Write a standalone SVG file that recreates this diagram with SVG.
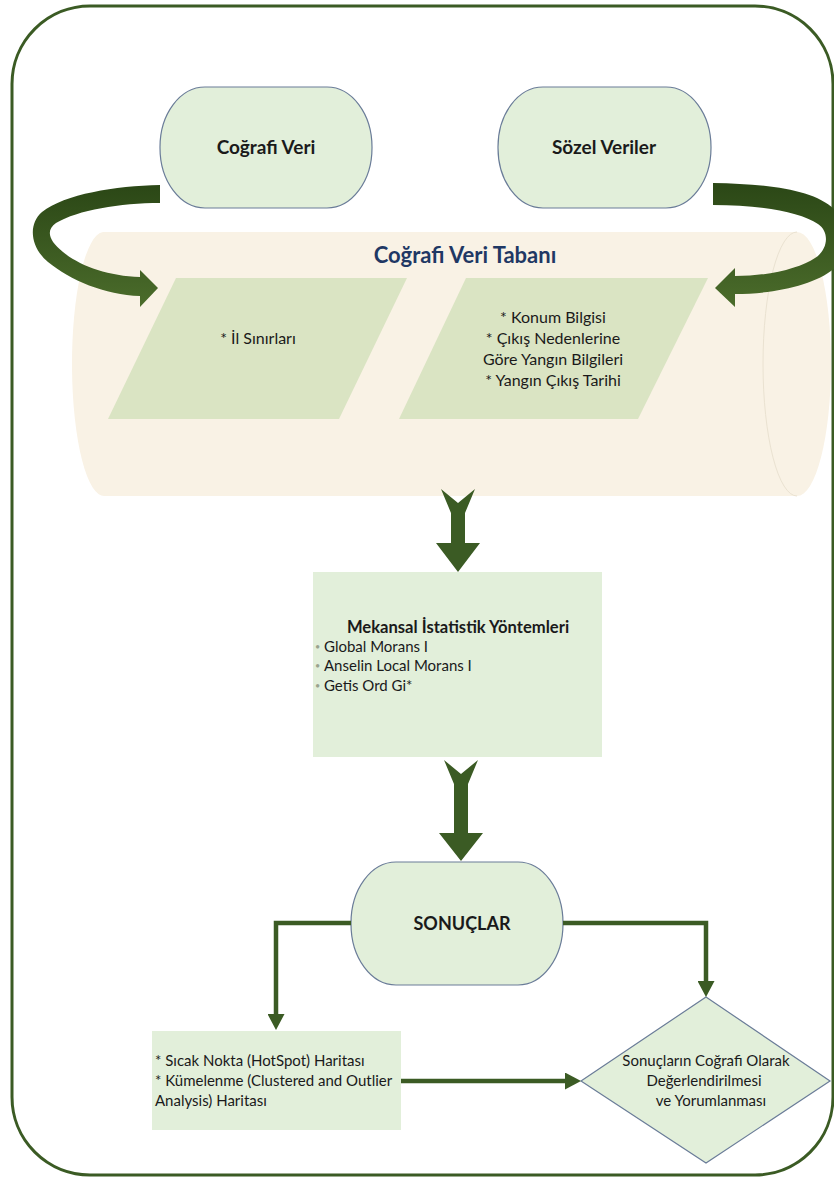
<svg xmlns="http://www.w3.org/2000/svg" width="834" height="1180" viewBox="0 0 834 1180">
<style>
text{font-family:Lato,"Liberation Sans","DejaVu Sans",sans-serif;fill:#1a1a1a}
.node{fill:#E2EFDA;stroke:#6A7C98;stroke-width:1.2}
.box{fill:#E2EFDA}
.para{fill:#DAE4C3}
.b{font-weight:bold}
.c{text-anchor:middle}
.t16{font-size:16px}
.t15{font-size:15px}
.conn{fill:none;stroke:#3B5B24;stroke-width:4.5}
.big{fill:#3B5B24}
.bul{fill:#9aa38e;font-size:9px}
</style>
<defs>
<marker id="ah" markerUnits="userSpaceOnUse" markerWidth="16" markerHeight="17" viewBox="0 -8.5 16 17" refX="1" refY="0" orient="auto">
<path d="M0,-8.5 L16,0 L0,8.5 Z" fill="#3B5B24"/>
</marker>
<linearGradient id="rib" x1="0" y1="0" x2="0" y2="1">
<stop offset="0" stop-color="#2B4716"/>
<stop offset="1" stop-color="#4B6C2B"/>
</linearGradient>
</defs>

<g id="frame">
<rect x="12" y="6" width="821" height="1169" rx="78" ry="78" fill="#ffffff" stroke="#3B5B24" stroke-width="3"/>
</g>

<g id="veritabani">
<path d="M103,232 L797,232 A34,132 0 0 1 797,496 L105,496 A32,132 0 0 1 103,232 Z" fill="#F9F2E5"/>
<path d="M797,232 A34,132 0 0 0 797,496" fill="none" stroke="#EAE2D1" stroke-width="1"/>
<text x="465" y="263" class="b c" style="font-size:22px;fill:#1F3864">Coğrafi Veri Tabanı</text>
</g>

<g id="il-sinirlari">
<polygon class="para" points="176,278 407,278 339,419 108,419"/>
<text x="258" y="344" class="c t16">* İl Sınırları</text>
</g>

<g id="sozel-bilgiler">
<polygon class="para" points="466,278 708,278 638,419 399,419"/>
<text class="c t16"><tspan x="553" y="323">* Konum Bilgisi</tspan><tspan x="553" y="344">* Çıkış Nedenlerine</tspan><tspan x="553" y="365">Göre Yangın Bilgileri</tspan><tspan x="553" y="386">* Yangın Çıkış Tarihi</tspan></text>
</g>

<g id="cografi-veri">
<rect class="node" x="160" y="87" width="212" height="121" rx="45" ry="60"/>
<text x="266" y="154" class="b c" style="font-size:19px">Coğrafi Veri</text>
</g>

<g id="sozel-veriler">
<rect class="node" x="498" y="87" width="213" height="121" rx="45" ry="60"/>
<text x="604" y="154" class="b c" style="font-size:19px">Sözel Veriler</text>
</g>

<g id="mekansal">
<rect class="box" x="313" y="572" width="289" height="185"/>
<text x="458" y="633" class="b c" style="font-size:16.6px">Mekansal İstatistik Yöntemleri</text>
<text x="315" y="650" class="bul">•</text>
<text x="315" y="669" class="bul">•</text>
<text x="315" y="689" class="bul">•</text>
<text x="324" y="652" class="t15">Global Morans I</text>
<text x="324" y="671" class="t15">Anselin Local Morans I</text>
<text x="324" y="691" class="t15">Getis Ord Gi*</text>
</g>

<g id="sonuclar">
<rect class="node" x="351" y="862" width="212" height="123" rx="45" ry="61"/>
<text x="462" y="930" class="b c" style="font-size:18px">SONUÇLAR</text>
</g>

<g id="haritalar">
<rect class="box" x="152" y="1031" width="249" height="99"/>
<text class="t15"><tspan x="155" y="1066">* Sıcak Nokta (HotSpot) Haritası</tspan><tspan x="155" y="1086">* Kümelenme (Clustered and Outlier</tspan><tspan x="155" y="1106">Analysis) Haritası</tspan></text>
</g>

<g id="degerlendirme">
<polygon class="node" points="706,997 830,1081 706,1163 581,1081"/>
<text class="c t15"><tspan x="706" y="1066">Sonuçların Coğrafi Olarak</tspan><tspan x="704" y="1086">Değerlendirilmesi</tspan><tspan x="711" y="1106">ve Yorumlanması</tspan></text>
</g>

<g id="connectors">
<path d="M160,185 C115,186 65,194 42,212 C28,224 30,247 48,262 C70,280 105,295 140,296 L140,307 L158,288 L140,270 L140,277 C108,276 80,266 63,252 C48,240 46,230 56,223 C78,210 120,203 160,203 Z" fill="url(#rib)"/>
<path d="M713,183 C770,184 815,190 835,210 C850,226 852,252 835,268 C815,285 775,294 735,294 L735,307 L715,288 L735,268 L735,276 C770,276 800,268 815,258 C828,250 830,232 818,224 C800,212 760,205 713,205 Z" fill="url(#rib)"/>
<polygon class="big" points="441,489 458,503 475,489 465,513 465,543 480,543 458,572 436,543 451,543 451,513"/>
<polygon class="big" points="444,760 461,774 478,760 468,784 468,833 483,833 461,861 439,833 454,833 454,784"/>
<path class="conn" d="M351,923 H276 V1015" marker-end="url(#ah)"/>
<path class="conn" d="M563,923 H706 V982" marker-end="url(#ah)"/>
<path class="conn" d="M401,1081 H566" marker-end="url(#ah)"/>
</g>
</svg>
